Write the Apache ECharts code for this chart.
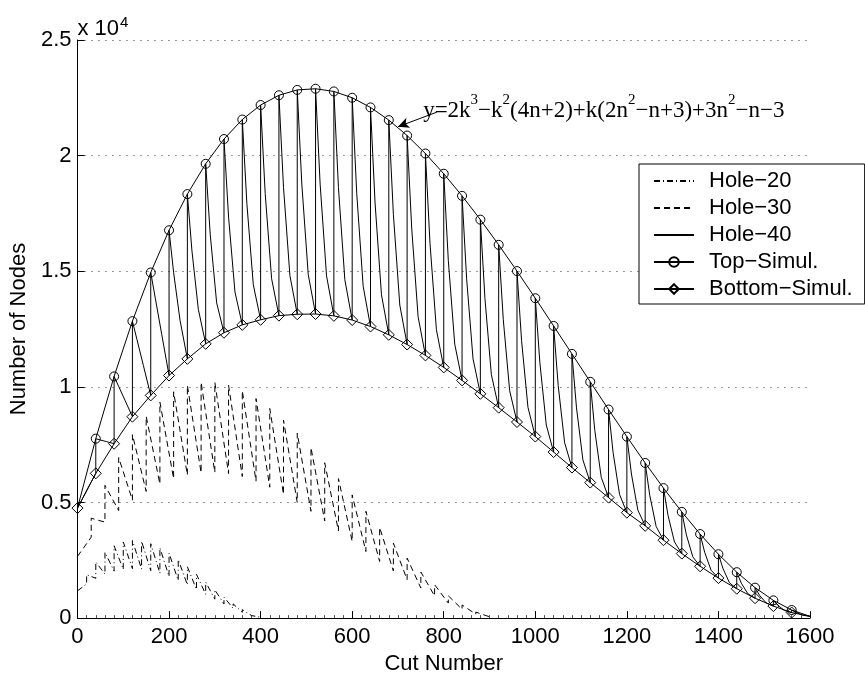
<!DOCTYPE html>
<html>
<head>
<meta charset="utf-8">
<script src="https://cdn.jsdelivr.net/npm/echarts@6/dist/echarts.min.js"></script>
<style>
html,body{margin:0;padding:0;background:#fff;}
#chart{width:865px;height:680px;}
</style>
</head>
<body>
<div id="chart"></div>
<script>
// ---- data ----
const xTicks = [0, 200, 400, 600, 800, 1000, 1200, 1400, 1600];
const yTicks = [0, 5000, 10000, 15000, 20000, 25000];
const seriesNames = ['Hole\u221220', 'Hole\u221230', 'Hole\u221240', 'Top\u2212Simul.', 'Bottom\u2212Simul.'];

// cuts per hole for each run
const hole20Len = 20;
const hole30Len = 30;
const hole40Len = 40;

// node count at the start of each hole (peaks) and at its end (troughs)
const hole20Top = [1177, 1880, 2431, 2842, 3125, 3292, 3355, 3326, 3217, 3040, 2807, 2530, 2221, 1892, 1555, 1222, 905, 616, 367, 170, 37];
const hole20Bottom = [1177, 1480, 1720, 1900, 2030, 2110, 2140, 2120, 2050, 1940, 1800, 1630, 1440, 1240, 1030, 820, 610, 420, 250, 110, 37];

const hole30Top = [2667, 4320, 5741, 6942, 7935, 8732, 9345, 9786, 10067, 10200, 10197, 10070, 9831, 9492, 9065, 8562, 7995, 7376, 6717, 6030, 5327, 4620, 3921, 3242, 2595, 1992, 1445, 966, 567, 260, 57];
const hole30Bottom = [2667, 3500, 4150, 4650, 5100, 5480, 5800, 6030, 6190, 6280, 6300, 6250, 6120, 5920, 5660, 5350, 5000, 4620, 4200, 3770, 3320, 2880, 2450, 2040, 1660, 1300, 960, 650, 380, 170, 57];

const hole40Top = [4757, 7760, 10451, 12842, 14945, 16772, 18335, 19646, 20717, 21560, 22187, 22610, 22841, 22892, 22775, 22502, 22085, 21536, 20867, 20090, 19217, 18260, 17231, 16142, 15005, 13832, 12635, 11426, 10217, 9020, 7847, 6710, 5621, 4592, 3635, 2762, 1985, 1316, 767, 350, 77];
const hole40Bottom = [4757, 6260, 7540, 8710, 9630, 10490, 11210, 11860, 12340, 12680, 12900, 13080, 13140, 13150, 13070, 12890, 12610, 12250, 11830, 11360, 10840, 10280, 9700, 9100, 8480, 7850, 7180, 6510, 5860, 5210, 4560, 3990, 3370, 2790, 2240, 1730, 1270, 860, 520, 240, 77];
// Hole-40: node count 10 and 24 cuts into each hole (the drop is fast at first)
const hole40MidCuts = [10, 24];
const hole40MidA = [5130, 7700, 10020, 12040, 13830, 14940, 15880, 16580, 17340, 17920, 18360, 18630, 18770, 18770, 18620, 18350, 17950, 17460, 16870, 16200, 15460, 14670, 13820, 12920, 12000, 11040, 10060, 9090, 8110, 7150, 6230, 5310, 4430, 3600, 2840, 2140, 1510, 980, 550, 240];
const hole40MidB = [5660, 7630, 9410, 10920, 12270, 12880, 13350, 13630, 14100, 14420, 14680, 14810, 14860, 14800, 14630, 14350, 13980, 13540, 13030, 12470, 11850, 11210, 10530, 9830, 9110, 8350, 7590, 6840, 6090, 5350, 4670, 3960, 3290, 2650, 2070, 1530, 1060, 660, 330, 125];

// annotation (data coordinates)
const formulaAnchor = [755, 21700];
const arrowFrom = [785, 21880];
const arrowTo = [700, 21250];

// ---- build ----
function saw(tops, bottoms, len, mids, midCuts) {
  const pts = [[0, tops[0]]];
  for (let k = 1; k < tops.length; k++) {
    if (mids) mids.forEach((m, j) => pts.push([(k - 1) * len + midCuts[j], m[k - 1]]));
    pts.push([k * len, bottoms[k]]);
    pts.push([k * len, tops[k]]);
  }
  return pts;
}
const last = hole40Top.length - 1;
const topPts = hole40Top.map((v, k) => ({ value: [k * hole40Len, v], symbol: (k === 0 || k === last) ? 'none' : 'circle' }));
const botPts = hole40Bottom.map((v, k) => ({ value: [k * hole40Len, v], symbol: (k === last) ? 'none' : 'diamond' }));

const FONT = 'Liberation Sans';
const FS = 22;
const chart = echarts.init(document.getElementById('chart'), null, { renderer: 'canvas' });
const black = '#000';
const hidden = { opacity: 0 };

const option = {
  animation: false,
  backgroundColor: '#fff',
  grid: { left: 77, right: 55, top: 40, bottom: 61, containLabel: false },
  xAxis: {
    type: 'value', min: xTicks[0], max: xTicks[xTicks.length - 1], interval: 200,
    name: 'Cut Number', nameLocation: 'middle', nameGap: 30,
    nameTextStyle: { fontFamily: FONT, fontSize: FS, color: black },
    axisLine: { show: true, lineStyle: { color: black, width: 1 } },
    axisTick: { show: true, inside: true, length: 7, lineStyle: { color: black } },
    minorTick: { show: true, splitNumber: 10, length: 3, lineStyle: { color: '#555' } },
    axisLabel: { fontFamily: FONT, fontSize: FS, color: black, margin: 8, formatter: v => String(v) },
    splitLine: { show: false }
  },
  yAxis: {
    type: 'value', min: yTicks[0], max: yTicks[yTicks.length - 1], interval: 5000,
    name: 'Number of Nodes', nameLocation: 'middle', nameGap: 40, nameRotate: 90,
    nameTextStyle: { fontFamily: FONT, fontSize: FS, color: black },
    axisLine: { show: true, lineStyle: { color: black, width: 1 } },
    axisTick: { show: true, inside: true, length: 7, lineStyle: { color: black } },
    axisLabel: { fontFamily: FONT, fontSize: FS, color: black, margin: 6, formatter: v => String(v / 10000) },
    splitLine: { show: true, lineStyle: { color: '#333', width: 1, type: [1, 6] } }
  },
  legend: {
    left: 639, top: 164, orient: 'vertical',
    backgroundColor: '#fff', borderColor: black, borderWidth: 1,
    padding: [6, 12, 4, 14], itemGap: 5, itemWidth: 40, itemHeight: 12,
    textStyle: { fontFamily: FONT, fontSize: FS, color: black, lineHeight: 20, padding: [0, 0, 0, 10] },
    data: [
      { name: seriesNames[0], itemStyle: hidden },
      { name: seriesNames[1], itemStyle: hidden },
      { name: seriesNames[2], itemStyle: hidden },
      { name: seriesNames[3] },
      { name: seriesNames[4] }
    ]
  },
  series: [
    {
      name: seriesNames[0], type: 'line', data: saw(hole20Top, hole20Bottom, hole20Len),
      symbol: 'none', lineStyle: { color: black, width: 1, type: [6, 3, 1, 3] }, itemStyle: { color: black }, z: 2
    },
    {
      name: seriesNames[1], type: 'line', data: saw(hole30Top, hole30Bottom, hole30Len),
      symbol: 'none', lineStyle: { color: black, width: 1, type: [6, 4] }, itemStyle: { color: black }, z: 2
    },
    {
      name: seriesNames[2], type: 'line', data: saw(hole40Top, hole40Bottom, hole40Len, [hole40MidA, hole40MidB], hole40MidCuts),
      symbol: 'none', lineStyle: { color: black, width: 1 }, itemStyle: { color: black }, z: 2
    },
    {
      name: seriesNames[3], type: 'line', data: topPts, symbol: 'circle', symbolSize: 9, showAllSymbol: true,
      lineStyle: { color: black, width: 1 },
      itemStyle: { color: 'rgba(0,0,0,0)', borderColor: black, borderWidth: 1 }, z: 3,
      markLine: {
        silent: true, symbol: ['none', 'arrow'], symbolSize: [8, 11],
        label: { show: false }, lineStyle: { color: black, width: 1, type: 'solid' },
        data: [[{ coord: arrowFrom }, { coord: arrowTo }]]
      }
    },
    {
      name: seriesNames[4], type: 'line', data: botPts, symbol: 'diamond', symbolSize: 11, showAllSymbol: true,
      lineStyle: { color: black, width: 1 },
      itemStyle: { color: 'rgba(0,0,0,0)', borderColor: black, borderWidth: 1 }, z: 3
    }
  ]
};
chart.setOption(option);

const p0 = chart.convertToPixel({ gridIndex: 0 }, formulaAnchor);
const yTop = chart.convertToPixel({ gridIndex: 0 }, [0, yTicks[yTicks.length - 1]]);
chart.setOption({
  graphic: [
    {
      type: 'text', left: yTop[0], top: yTop[1] - 25,
      style: {
        text: '{a|x 10}{b|4}', fill: black,
        rich: {
          a: { fontFamily: FONT, fontSize: FS, verticalAlign: 'bottom', lineHeight: 25 },
          b: { fontFamily: FONT, fontSize: 15, verticalAlign: 'top', lineHeight: 25, padding: [0, 0, 8, 1] }
        }
      }
    },
    {
      type: 'text', x: p0[0], y: p0[1] - 24,
      style: {
        text: '{n|y=2k}{s|3}{n|\u2212k}{s|2}{n|(4n+2)+k(2n}{s|2}{n|\u2212n+3)+3n}{s|2}{n|\u2212n\u22123}',
        fill: black,
        rich: {
          n: { fontFamily: 'Liberation Serif', fontSize: 23, verticalAlign: 'bottom', lineHeight: 30 },
          s: { fontFamily: 'Liberation Serif', fontSize: 15, verticalAlign: 'top', lineHeight: 30 }
        }
      }
    }
  ]
});
</script>
</body>
</html>
